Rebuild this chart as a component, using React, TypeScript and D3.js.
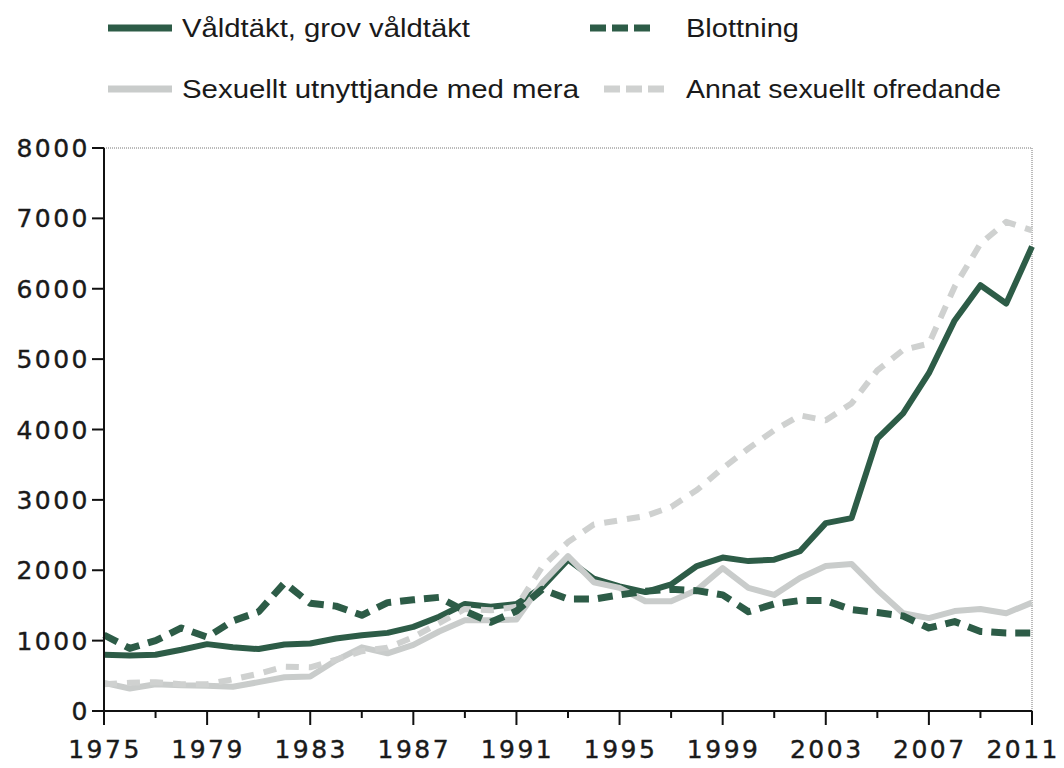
import * as React from 'react';
import * as d3 from 'd3';

const years = d3.range(1975, 2012);

const valdtakt = [800, 790, 800, 870, 950, 905, 880, 945, 960, 1030, 1075, 1110, 1195, 1340, 1520, 1480, 1520, 1760, 2150, 1880, 1770, 1690, 1800, 2060, 2180, 2130, 2150, 2270, 2670, 2740, 3870, 4230, 4800, 5550, 6050, 5790, 6600];
const blottning = [1080, 890, 1000, 1180, 1050, 1280, 1410, 1820, 1530, 1490, 1360, 1540, 1580, 1615, 1420, 1260, 1420, 1730, 1590, 1590, 1650, 1700, 1730, 1710, 1650, 1410, 1520, 1570, 1570, 1440, 1400, 1350, 1180, 1270, 1130, 1110, 1110];
const utnyttjande = [400, 320, 380, 365, 360, 345, 410, 480, 490, 720, 905, 820, 940, 1130, 1290, 1290, 1300, 1820, 2200, 1830, 1750, 1560, 1560, 1720, 2030, 1750, 1650, 1890, 2060, 2090, 1720, 1390, 1320, 1420, 1450, 1390, 1540];
const ofredande = [380, 400, 410, 380, 380, 450, 530, 630, 620, 730, 850, 900, 1050, 1250, 1450, 1430, 1480, 2050, 2400, 2650, 2710, 2770, 2900, 3140, 3450, 3730, 3990, 4200, 4130, 4370, 4840, 5130, 5220, 6030, 6640, 6950, 6830];

const yTicks = [0, 1000, 2000, 3000, 4000, 5000, 6000, 7000, 8000];
const xLabels = [1975, 1979, 1983, 1987, 1991, 1995, 1999, 2003, 2007, 2011];

const DARK = '#2d5c47';
const LIGHT = '#c9cccb';
const LIGHT_D = '#cfd1d0';

const series = [
  { name: 'Våldtäkt, grov våldtäkt', values: valdtakt, color: DARK, dash: '', width: 6 },
  { name: 'Sexuellt utnyttjande med mera', values: utnyttjande, color: LIGHT, dash: '', width: 6 },
  { name: 'Annat sexuellt ofredande', values: ofredande, color: LIGHT_D, dash: '13 10', width: 6 },
  { name: 'Blottning', values: blottning, color: DARK, dash: '15 9', width: 7 },
];

const W = 1064;
const H = 768;
const left = 104;
const right = 1032;
const top = 148;
const bottom = 711;

export default function App() {
  const x = d3.scaleLinear().domain([1975, 2011]).range([left, right]);
  const y = d3.scaleLinear().domain([0, 8000]).range([bottom, top]);
  const line = d3.line<number>().x((d, i) => x(years[i])).y((d) => y(d));
  const ticks2 = d3.range(1975, 2012, 2);

  const legend = [
    { s: series[0], sx: 108, tx: 182, ty: 28, tl: 288 },
    { s: series[3], sx: 590, tx: 686, ty: 28, tl: 113 },
    { s: series[1], sx: 108, tx: 182, ty: 89, tl: 397 },
    { s: series[2], sx: 604, tx: 686, ty: 89, tl: 315 },
  ];

  const numStyle = { fontFamily: "'DejaVu Sans', sans-serif", fontSize: 25, letterSpacing: 2.5 };

  return (
    <div style={{ position: 'absolute', left: 0, top: 0 }}>
      <svg width={W} height={H} style={{ display: 'block', background: '#fff' }} fontFamily="'Liberation Sans', Arial, sans-serif">
        {legend.map((l, i) => (
          <g key={i}>
            <line x1={l.sx} x2={l.sx + 64} y1={l.ty} y2={l.ty} stroke={l.s.color} strokeWidth={7}
              strokeDasharray={l.s.dash ? '16 6' : undefined} />
            <text x={l.tx} y={l.ty + 9} fontSize={26} fill="#1a1a1a" textLength={l.tl} lengthAdjust="spacingAndGlyphs">{l.s.name}</text>
          </g>
        ))}

        <line x1={left} x2={right} y1={top} y2={top} stroke="#777" strokeWidth={1} strokeDasharray="1 1" />
        <line x1={right} x2={right} y1={top} y2={bottom} stroke="#777" strokeWidth={1} strokeDasharray="1 1" />

        {series.map((s, i) => (
          <path key={i} d={line(s.values) || ''} fill="none" stroke={s.color} strokeWidth={s.width}
            strokeDasharray={s.dash || undefined} strokeLinejoin="round" />
        ))}

        <line x1={left} x2={left} y1={top} y2={bottom} stroke="#111" strokeWidth={2} />
        <line x1={left - 12} x2={right} y1={bottom} y2={bottom} stroke="#111" strokeWidth={2} />
        {yTicks.map((t) => (
          <g key={t}>
            <line x1={left - 12} x2={left} y1={y(t)} y2={y(t)} stroke="#111" strokeWidth={2} />
            <text x={90} y={y(t) + 9} textAnchor="end" style={numStyle} fill="#1a1a1a" stroke="#1a1a1a" strokeWidth={0.4}>{t}</text>
          </g>
        ))}
        {ticks2.map((t) => (
          <line key={t} x1={x(t)} x2={x(t)} y1={bottom} y2={bottom + (xLabels.includes(t) ? 14 : 7)} stroke="#111" strokeWidth={2} />
        ))}
        {xLabels.map((t, i) => {
          const last = i === xLabels.length - 1;
          return (
            <text key={t} x={last ? W - 4 : x(t) + 1} y={758} textAnchor={last ? 'end' : 'middle'} style={numStyle}
              fill="#1a1a1a" stroke="#1a1a1a" strokeWidth={0.4}>{t}</text>
          );
        })}
      </svg>
    </div>
  );
}
